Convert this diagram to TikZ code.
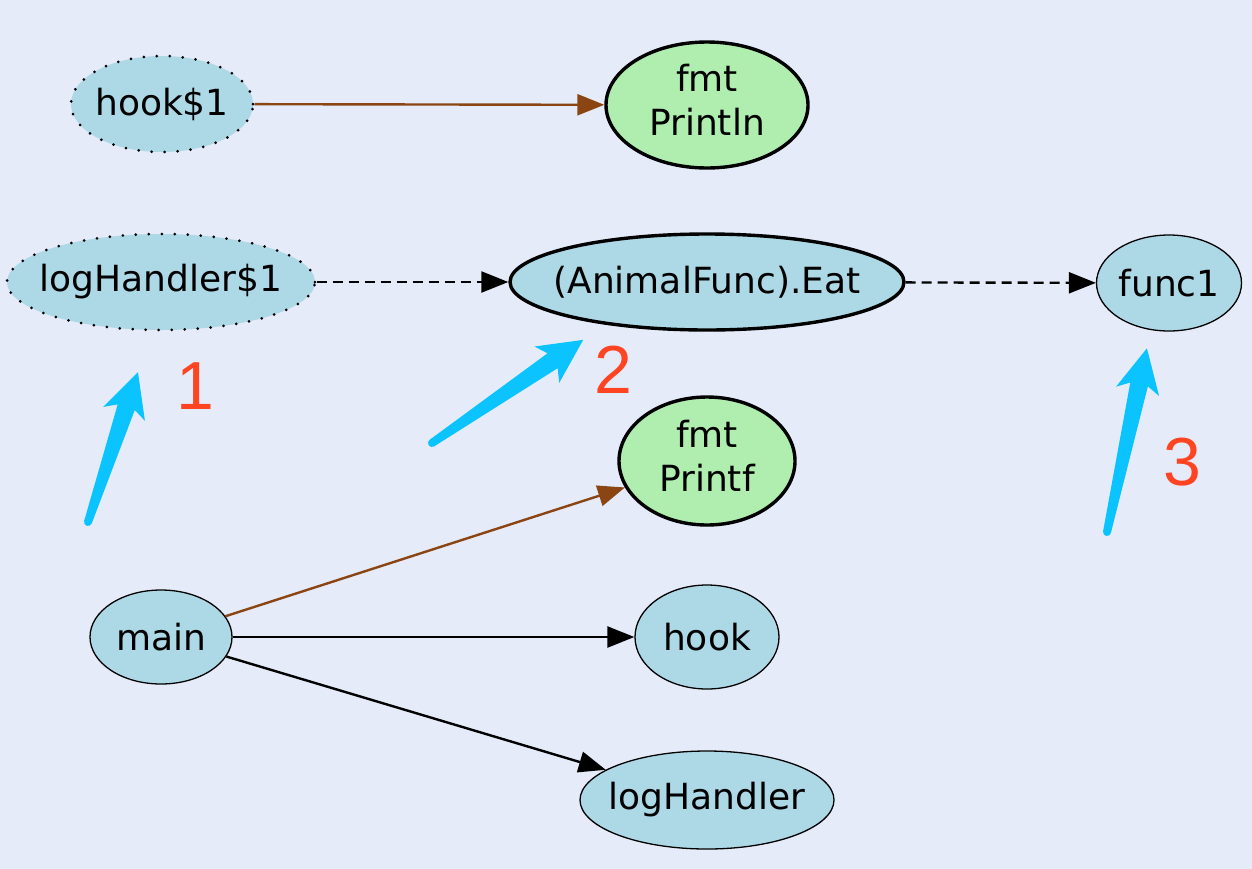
\documentclass[tikz,border=0pt]{standalone}
\usepackage{fontspec}
\setmainfont{DejaVu Sans}
\newfontfamily\numfont{Liberation Sans}
\usetikzlibrary{shapes.geometric,arrows.meta}
\definecolor{bg}{HTML}{E5EBF9}
\definecolor{nodeblue}{HTML}{ADD8E6}
\definecolor{nodegreen}{HTML}{B0EEB0}
\definecolor{edgebrown}{HTML}{8B4513}
\definecolor{annblue}{HTML}{0AC3FF}
\definecolor{annred}{HTML}{FF4422}
\newcommand\zw[1]{\makebox[0pt]{#1}}
\newcommand\twol[2]{\makebox[0pt]{\begin{tabular}{@{}c@{}}#1\\#2\end{tabular}}}
\newcommand\annarrow[3]{%
  \begin{scope}[shift={#1}, rotate=#2]
    \fill[annblue] (0,4) -- ({#3-37},9) -- ({#3-44},22) -- (#3,0) -- ({#3-44},-22) -- ({#3-37},-9) -- (0,-4) -- cycle;
    \fill[annblue] (0,0) circle (4pt);
  \end{scope}}
\begin{document}
\begin{tikzpicture}[x=1pt,y=-1pt,
  fn/.style={ellipse, fill=nodeblue, draw=black, line width=1.3pt, inner sep=0pt,
             font=\fontsize{36}{44}\selectfont},
  dotfn/.style={fn, line width=3pt, dash pattern=on 0pt off 13pt, line cap=round},
  boldfn/.style={fn, line width=3.4pt},
  pkg/.style={boldfn, fill=nodegreen},
  call/.style={-{Triangle[length=27pt,width=21pt]}, line width=2.4pt, draw=black},
  brownedge/.style={call, draw=edgebrown},
  dyn/.style={call, dash pattern=on 10pt off 6pt},
  num/.style={inner sep=0pt, text=annred, font=\numfont\fontsize{68}{68}\selectfont}]
\useasboundingbox (0,0) rectangle (1252,868);
\fill[bg] (-3,-3) rectangle (1255,871);

\node[dotfn, minimum width=182, minimum height=96] (hook1) at (162,104) {\zw{hook\$1}};
\node[pkg, minimum width=202, minimum height=126] (println) at (707,105) {\twol{fmt}{Println}};
\node[dotfn, minimum width=308, minimum height=96] (log1) at (161,282) {\zw{logHandler\$1}};
\node[boldfn, minimum width=394, minimum height=96] (eat) at (707,282) {\zw{(AnimalFunc).Eat}};
\node[fn, minimum width=145, minimum height=96] (func1) at (1169,283) {\zw{func1}};
\node[pkg, minimum width=176, minimum height=128] (printf) at (707,461) {\twol{fmt}{Printf}};
\node[fn, minimum width=142, minimum height=94] (main) at (161,637) {\zw{main}};
\node[fn, minimum width=144, minimum height=104] (hook) at (707,637) {\zw{hook}};
\node[fn, minimum width=254, minimum height=98] (logh) at (707,800) {\zw{logHandler}};

\draw[brownedge] (hook1) -- (println);
\draw[dyn] (log1) -- (eat);
\draw[dyn] (eat) -- (func1);
\draw[brownedge] (main) -- (printf);
\draw[call] (main) -- (hook);
\draw[call] (main) -- (logh);

\annarrow{(88,522)}{71.57}{158}
\annarrow{(432,443)}{34.3}{183}
\annarrow{(1107,532)}{77.74}{188}

\node[num] (n1) at (195,386) {1};
\node[num] (n2) at (613,370) {2};
\node[num] (n3) at (1182,462) {3};
\end{tikzpicture}
\end{document}
